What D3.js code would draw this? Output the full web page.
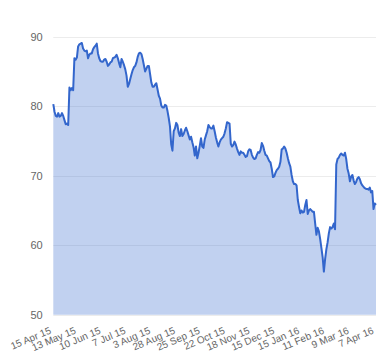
<!DOCTYPE html>
<html>
<head>
<meta charset="utf-8">
<script src="https://cdn.jsdelivr.net/npm/d3@7"></script>
<style>
  html, body { margin: 0; padding: 0; background: #fff; }
  svg { display: block; font-family: "Liberation Sans", Arial, sans-serif; }
</style>
</head>
<body>
<svg id="chart" width="380" height="360"></svg>
<script>
// Tick labels every 20 trading days
const tickLabels = ["15 Apr 15","13 May 15","10 Jun 15","7 Jul 15","3 Aug 15","28 Aug 15","25 Sep 15","22 Oct 15","18 Nov 15","15 Dec 15","15 Jan 16","11 Feb 16","9 Mar 16","7 Apr 16"];
const tickStep = 20;
const yTicks = [50, 60, 70, 80, 90];

// Daily values (one per trading day)
const values = [
  80.3,79.2,78.6,78.5,79.0,78.5,78.6,79.0,78.6,78.0,
  77.4,77.5,77.3,82.7,82.3,82.6,82.3,86.9,86.7,87.0,
  88.6,88.9,89.0,89.1,88.3,88.0,87.9,88.0,86.9,87.4,
  87.6,87.6,88.2,88.5,88.7,89.0,87.6,86.9,86.5,86.4,
  86.4,86.7,86.8,86.4,85.8,86.0,86.3,86.4,86.9,87.0,
  87.1,87.4,86.9,86.2,85.6,86.8,86.4,85.9,85.3,84.4,
  82.8,83.2,83.9,84.6,85.2,85.6,85.8,86.3,87.1,87.6,
  87.7,87.5,86.8,85.9,85.0,85.4,85.8,85.8,84.6,83.4,
  82.8,82.8,83.1,83.3,82.4,81.5,81.1,80.1,79.8,79.8,
  80.2,80.1,79.3,78.3,77.1,74.5,73.6,76.4,76.8,77.6,
  77.3,76.2,75.7,76.7,75.7,76.0,76.5,76.9,76.4,75.8,
  75.2,75.6,74.8,74.1,72.9,74.2,72.5,73.3,74.3,75.4,
  74.2,74.0,75.2,75.8,76.4,77.3,77.0,76.8,76.8,77.2,
  76.4,75.5,74.8,74.2,74.8,75.2,75.4,75.6,76.1,76.8,
  77.7,77.6,77.5,74.6,74.2,74.4,74.9,74.5,73.9,73.4,
  73.0,73.5,73.3,73.3,73.0,72.7,72.8,73.5,73.8,73.7,
  73.0,72.6,72.4,72.5,73.0,73.4,73.3,73.7,74.7,74.3,
  73.6,73.0,72.9,72.5,72.1,71.9,71.0,69.8,69.9,70.4,
  70.8,71.0,71.3,72.0,73.8,73.9,74.2,73.9,73.3,72.5,
  71.8,71.3,70.1,69.2,68.8,68.8,68.6,66.5,65.5,64.6,
  65.0,64.7,64.8,65.8,66.5,64.5,65.0,65.2,65.0,64.8,
  64.8,63.1,61.5,62.5,62.0,60.9,59.6,58.3,56.2,58.0,
  59.4,60.4,61.7,62.6,62.4,62.6,63.1,62.3,71.6,72.4,
  72.6,73.0,73.2,73.0,72.9,73.3,72.4,71.0,70.3,69.2,
  69.9,70.1,69.3,68.8,69.1,69.6,69.8,69.5,68.9,68.6,
  68.4,68.2,68.1,68.1,68.0,68.3,67.6,67.8,65.2,66.0,
  65.8
];

const svg = d3.select("#chart");
const plotLeft = 53.3, plotRight = 376, plotTop = 36.7, plotBottom = 314.7;

const x = d3.scaleLinear().domain([0, values.length - 1]).range([plotLeft, plotRight]);
const y = d3.scaleLinear().domain([50, 90]).range([plotBottom, plotTop]);

// Gridlines
svg.append("g")
  .selectAll("line")
  .data(yTicks)
  .join("line")
  .attr("x1", plotLeft).attr("x2", plotRight)
  .attr("y1", d => Math.round(y(d)) + 0.5).attr("y2", d => Math.round(y(d)) + 0.5)
  .attr("stroke", "#ececec").attr("stroke-width", 1);

// Y labels
svg.append("g")
  .selectAll("text")
  .data(yTicks)
  .join("text")
  .attr("x", 42.7).attr("y", d => y(d))
  .attr("dy", "0.36em")
  .attr("text-anchor", "end")
  .attr("font-size", 11)
  .attr("fill", "#666")
  .text(d => d);

// Area
const area = d3.area()
  .x((d, i) => x(i))
  .y0(y(50))
  .y1(d => y(d));
svg.append("path")
  .datum(values)
  .attr("d", area)
  .attr("fill", "#3366cc")
  .attr("fill-opacity", 0.3);

// Line
const line = d3.line()
  .x((d, i) => x(i))
  .y(d => y(d));
svg.append("path")
  .datum(values)
  .attr("d", line)
  .attr("fill", "none")
  .attr("stroke", "#3366cc")
  .attr("stroke-width", 2)
  .attr("stroke-linejoin", "round");

// X labels (slanted)
svg.append("g")
  .selectAll("text")
  .data(tickLabels)
  .join("text")
  .attr("transform", (d, i) => `translate(${x(i * tickStep) - 1.5},${333}) rotate(-23)`)
  .attr("text-anchor", "end")
  .attr("font-size", 10)
  .attr("fill", "#666")
  .text(d => d);
</script>
</body>
</html>
